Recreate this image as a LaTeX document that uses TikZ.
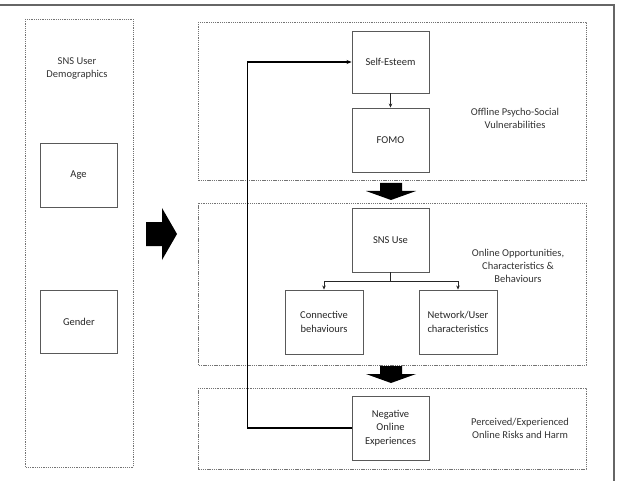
\documentclass[tikz,border=0pt]{standalone}
\usepackage{fontspec}
\setmainfont{Carlito}
\usetikzlibrary{arrows.meta,positioning}

\begin{document}
\begin{tikzpicture}[x=1pt,y=-1pt,
    box/.style={draw=black!65,line width=0.9pt,minimum width=77pt,minimum height=64pt,align=center,font=\fontsize{10.5}{13.3}\selectfont,text=black!85,inner sep=1pt},
    panel/.style={draw=black!55,line width=0.8pt,dash pattern=on 1.3pt off 0.9pt},
    lbl/.style={align=center,font=\fontsize{10.5}{13}\selectfont,text=black!80},
    link/.style={-{Stealth[length=4pt,width=3.5pt]},black!85,line width=0.6pt},
    feedback/.style={-{Stealth[length=5pt,width=4pt]},black,line width=1.5pt}]
  \useasboundingbox (0,0) rectangle (618,481);
  % outer frame
  \draw[black!60,line width=1.2pt] (0,5) -- (614,5) -- (614,481);
  % panels
  \draw[panel] (25,19) rectangle (133,467);
  \draw[panel] (198,22) rectangle (586,180);
  \draw[panel] (198,203) rectangle (586,365);
  \draw[panel] (198,388) rectangle (586,469);
  % demographics
  \node[lbl] (demog) at (77,68) {SNS User\\Demographics};
  \node[box,minimum width=77pt] (age) at (78.5,175) {Age};
  \node[box,minimum width=77pt,minimum height=63pt] (gender) at (79,321.5) {Gender};
  % big arrows
  \fill[black] (146,222) -- (162,222) -- (162,208) -- (177,234) -- (162,260) -- (162,246) -- (146,246) -- cycle;
  \foreach \t in {183,366}
    \fill[black] (380,\t) -- (402,\t) -- (402,\t+8) -- (416,\t+8) -- (391,\t+17) -- (366,\t+8) -- (380,\t+8) -- cycle;
  % offline
  \node[box,minimum height=62pt] (self) at (390.5,62) {Self-Esteem};
  \node[box] (fomo) at (390.5,140) {FOMO};
  \node[lbl] (offline) at (515,118) {Offline Psycho-Social\\Vulnerabilities};
  \draw[link] (self) -- (fomo);
  % online
  \node[box] (sns) at (390.5,240) {SNS Use};
  \node[box,minimum width=78pt] (conn) at (324,322) {Connective\\behaviours};
  \node[box,minimum width=78pt] (netw) at (458,322) {Network/User\\characteristics};
  \node[lbl] (online) at (518,266) {Online Opportunities,\\Characteristics \&\\Behaviours};
  \draw[link] (sns.south) -- ++(0,9) -| (conn.north);
  \draw[link] (sns.south) -- ++(0,9) -| (netw.north);
  % risks
  \node[box] (neg) at (390.5,428) {Negative\\Online\\Experiences};
  \node[lbl] (risk) at (520,428) {Perceived/Experienced\\Online Risks and Harm};
  \draw[feedback] (neg.west) -- ++(-104,0) |- (self.west);
\end{tikzpicture}
\end{document}
